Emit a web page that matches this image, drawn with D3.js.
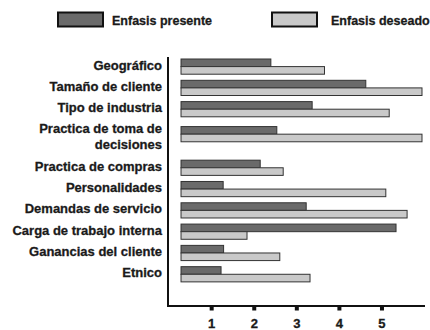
<!DOCTYPE html>
<html><head><meta charset="utf-8">
<script src="https://cdn.jsdelivr.net/npm/d3@7"></script>
<style>body{margin:0;background:#fff}svg{display:block}text{font-family:"Liberation Sans",Arial,sans-serif;font-weight:bold;fill:#1a1a1a;stroke:#1a1a1a;stroke-width:0.3px}</style>
</head><body><svg id="c" width="430" height="330"></svg>
<script>
const categories = [["Geográfico"],["Tamaño de cliente"],["Tipo de industria"],["Practica de toma de","decisiones"],["Practica de compras"],["Personalidades"],["Demandas de servicio"],["Carga de trabajo interna"],["Ganancias del cliente"],["Etnico"]];
const presente = [2.39,4.62,3.36,2.53,2.14,1.27,3.22,5.33,1.28,1.22];
const deseado  = [3.65,5.94,5.17,5.94,2.68,5.09,5.59,1.83,2.60,3.31];
const seriesNames = ["Enfasis presente","Enfasis deseado"];
const tickValues = [1,2,3,4,5];
const barBase = 0.28;

const svg = d3.select("#c");
const x = d3.scaleLinear().domain([0,6]).range([169.1,169.1+6*42.575]);
const colors = ["#6a6a6a","#c9c9c9"];

// vertical layout: multi-line labels take extra room
const weights = categories.map(c => 1 + 0.75*(c.length-1));
const starts = []; let acc = 0;
weights.forEach(w => { starts.push(acc); acc += w; });
const y = d3.scaleLinear().domain([0,1]).range([59,59+21.3]);
const barH = 7.6;

categories.forEach((lab,i)=>{
  const top = y(starts[i] + (weights[i]-1)*0.23);
  [presente[i], deseado[i]].forEach((v,k)=>{
    svg.append("rect").attr("x",x(barBase)).attr("y",top+k*barH)
      .attr("width",x(v)-x(barBase)).attr("height",barH)
      .attr("fill",colors[k]).attr("stroke","#333").attr("stroke-width",1);
  });
  const cy = top + barH;
  const n = lab.length, lh = 16;
  lab.forEach((t,j)=>{
    svg.append("text").attr("x",162).attr("y",cy + 3 - (n-1)*3.7 + j*lh)
      .attr("text-anchor","end").attr("font-size",13).text(t);
  });
});

// axes
svg.append("line").attr("x1",168).attr("x2",168).attr("y1",57).attr("y2",306.5).attr("stroke","#111").attr("stroke-width",2);
svg.append("line").attr("x1",167).attr("x2",425).attr("y1",306).attr("y2",306).attr("stroke","#111").attr("stroke-width",2);
tickValues.forEach(t=>{
  svg.append("rect").attr("x",x(t)-2).attr("y",306).attr("width",4).attr("height",4.5).attr("fill","#111");
  svg.append("text").attr("x",x(t)).attr("y",327.5).attr("text-anchor","middle").attr("font-size",13).text(t);
});

// legend
const lx = [58,272], tx=[112,331];
seriesNames.forEach((s,k)=>{
  svg.append("rect").attr("x",lx[k]).attr("y",12.5).attr("width",45).attr("height",14)
    .attr("fill",colors[k]).attr("stroke","#111").attr("stroke-width",2);
  svg.append("text").attr("x",tx[k]).attr("y",24.5).attr("font-size",12.5).text(s);
});
</script></body></html>
